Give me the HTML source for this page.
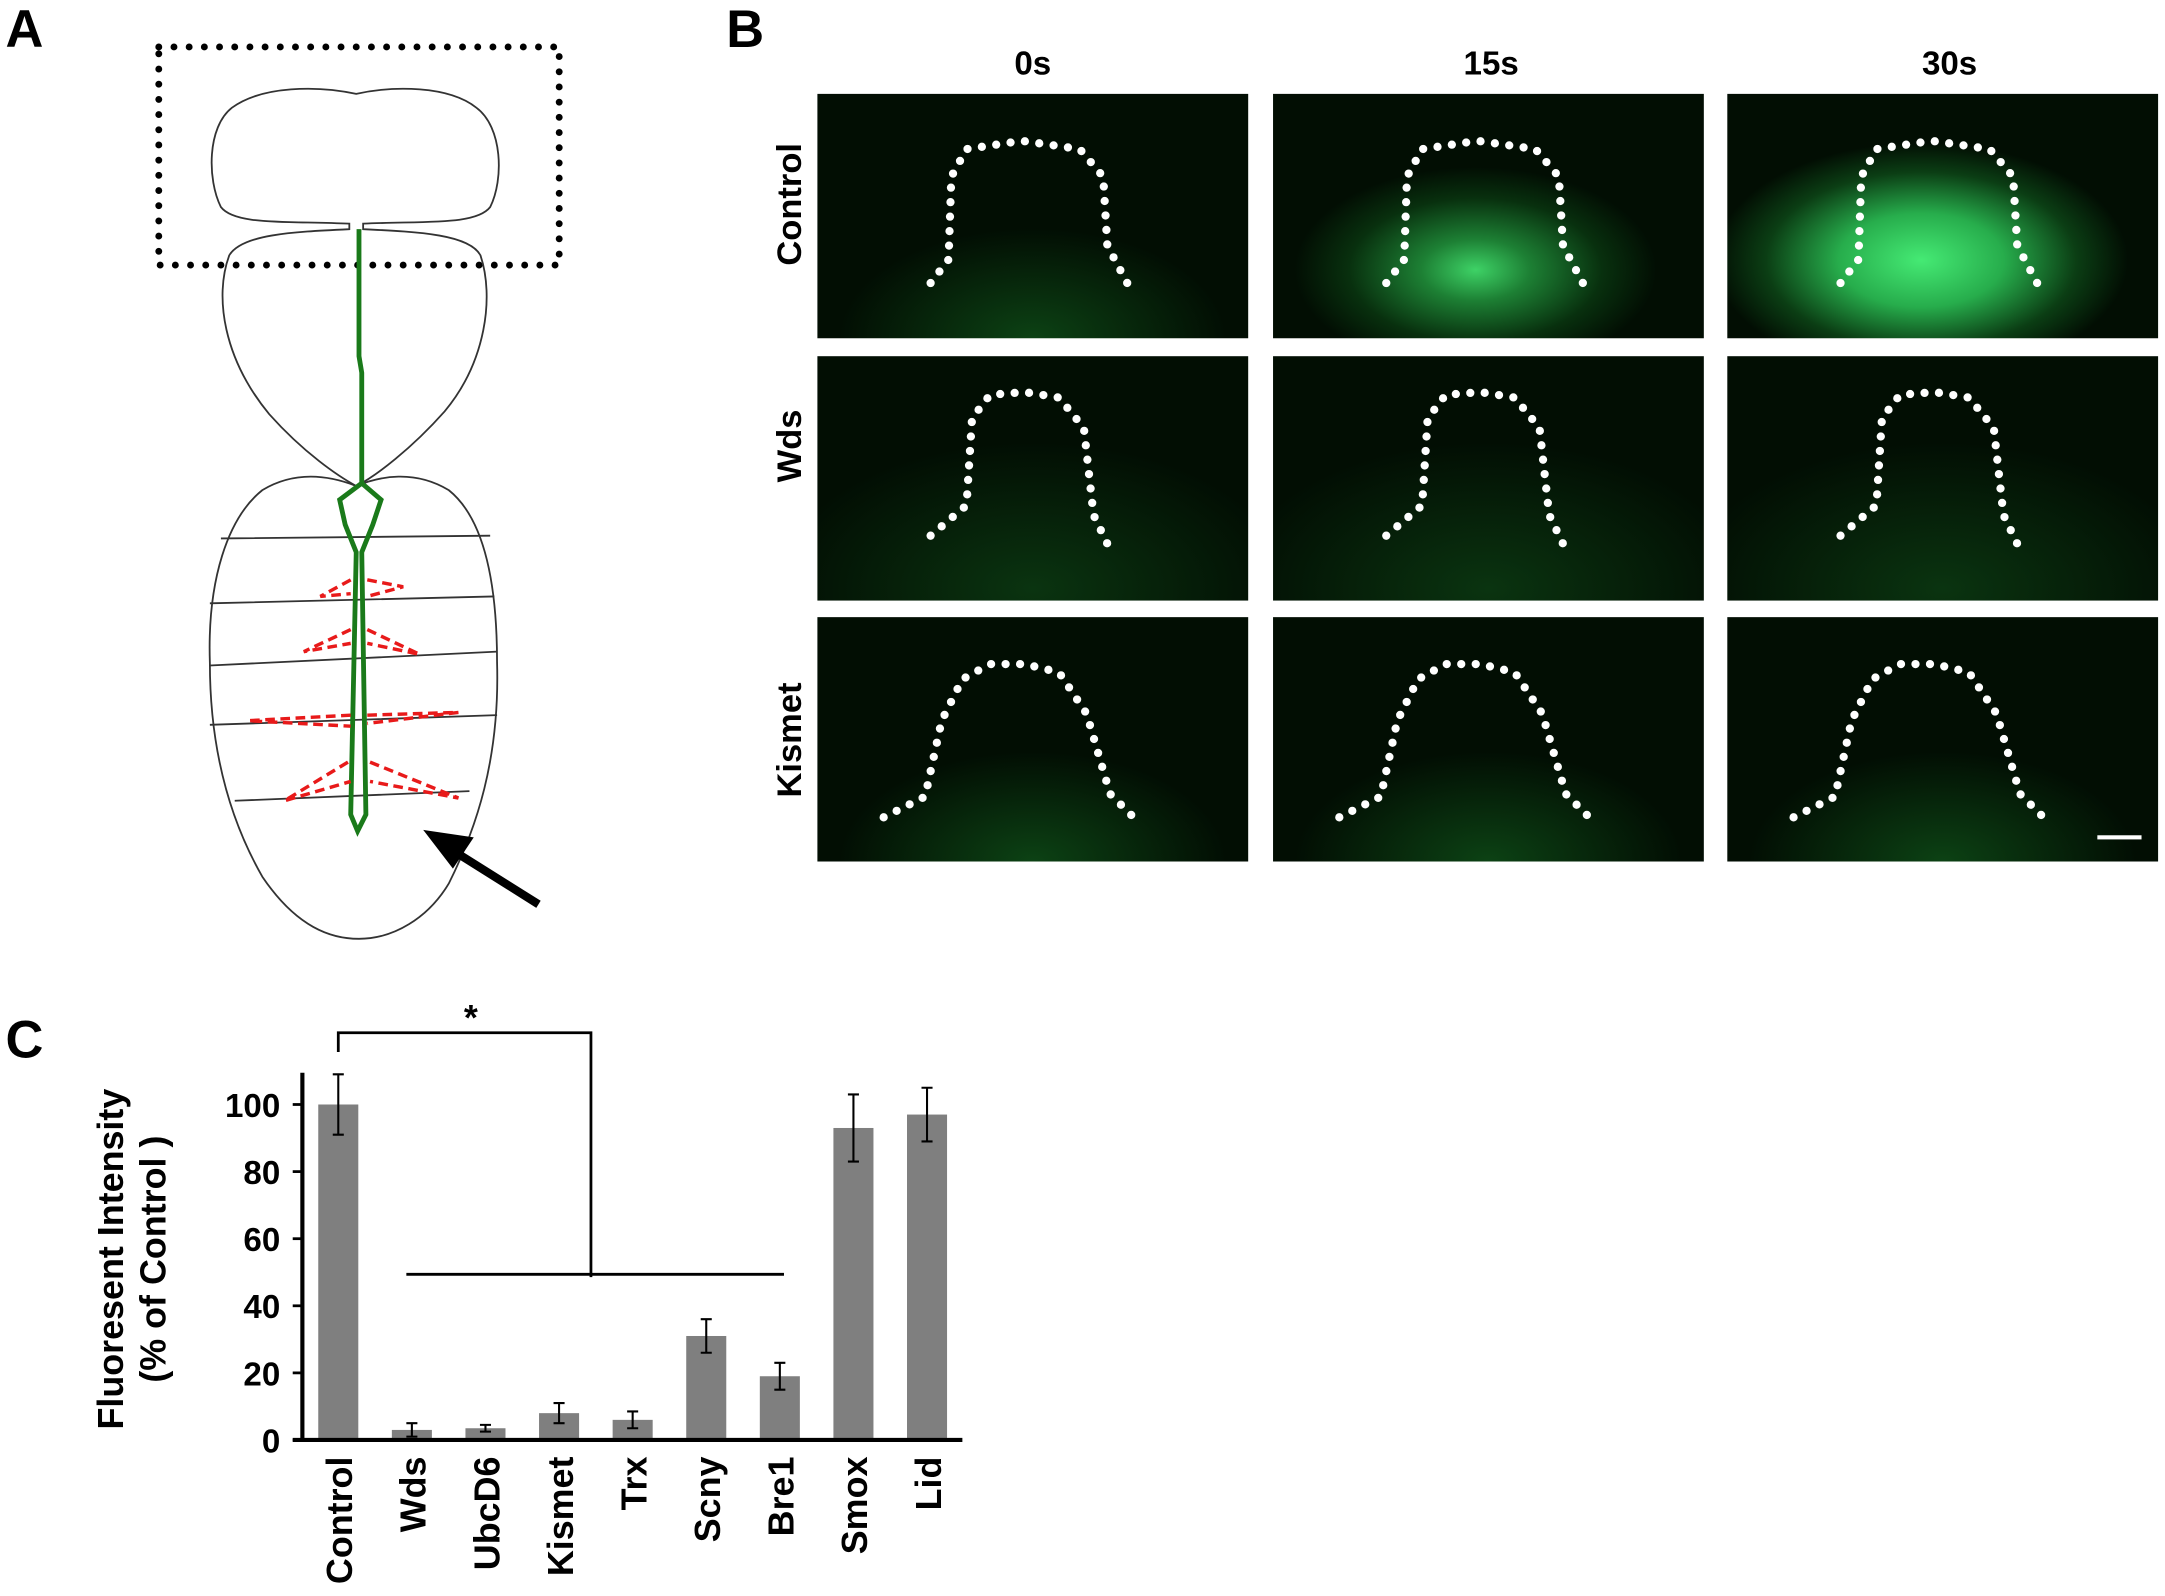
<!DOCTYPE html>
<html><head><meta charset="utf-8"><style>
html,body{margin:0;padding:0;background:#fff;}
svg{display:block;}
text{font-family:"Liberation Sans",sans-serif;font-weight:bold;}
</style></head><body>
<svg id="fig" width="2165" height="1596" viewBox="0 0 1568 1156" preserveAspectRatio="none" xmlns="http://www.w3.org/2000/svg">
<defs>
<radialGradient id="gC0" cx="0.5" cy="1.0" r="0.45"><stop offset="0" stop-color="#0c4214"/><stop offset="1" stop-color="#020e03"/></radialGradient>
<radialGradient id="gC15" cx="0.47" cy="0.72" r="0.42"><stop offset="0" stop-color="#3ed266"/><stop offset="0.3" stop-color="#1d8034"/><stop offset="0.7" stop-color="#08300e"/><stop offset="1" stop-color="#020e03"/></radialGradient>
<radialGradient id="gC30" cx="0.45" cy="0.68" r="0.48"><stop offset="0" stop-color="#45ea74"/><stop offset="0.4" stop-color="#27ad4c"/><stop offset="0.75" stop-color="#0b3e14"/><stop offset="1" stop-color="#020e03"/></radialGradient>
<radialGradient id="gD" cx="0.5" cy="0.95" r="0.6"><stop offset="0" stop-color="#0a3410"/><stop offset="1" stop-color="#020e03"/></radialGradient>
</defs>

<text x="4" y="34" font-size="38">A</text>
<text x="526" y="34" font-size="38">B</text>
<text x="4" y="766" font-size="38">C</text>

<g fill="none" stroke="#333" stroke-width="1.3">
  <rect x="115" y="34" width="290" height="158" stroke="#000" stroke-width="5" stroke-dasharray="0 11" stroke-linecap="round"/>
  <path d="M258,68 C230,62 190,62 168,78 C150,92 150,130 160,150 C170,163 205,160 253,162 L253,166 C210,168 175,170 166,185 C155,215 162,260 195,300 C220,328 245,345 258,352 C272,345 298,325 322,298 C352,262 358,215 348,185 C340,170 305,168 263,166 L263,162 C310,160 345,163 355,150 C365,130 364,92 345,78 C325,62 285,62 258,68 Z"/>
  <path d="M258,352 C240,345 215,340 190,355 C165,375 150,420 152,480 C152,550 170,600 190,635 C215,672 240,680 260,680 C285,680 310,665 325,640 C345,600 362,550 360,480 C360,420 350,375 325,355 C300,340 275,345 258,352 Z"/>
  <path d="M160,390 L355,388 M152,437 L358,432 M152,482 L360,472 M152,525 L360,518 M170,580 L340,573"/>
  <path d="M260,166 L260,258 L262,270 L262,350 M262,350 L246,362 L250,380 L258,400 L254,590 L259,602 L265,590 L262,400 L270,380 L276,362 Z" stroke="#1a7a1a" stroke-width="3.5"/>
  <g stroke="#e81a1a" stroke-width="2.5" stroke-dasharray="7 4">
    <path d="M254,420 L232,432 L254,430 M266,420 L292,425 L266,432"/>
    <path d="M254,456 L220,472 L254,466 M266,456 L304,474 L266,466"/>
    <path d="M254,518 L180,522 L254,526 M266,518 L332,516 L266,524"/>
    <path d="M252,552 L206,580 L254,566 M268,552 L332,578 L268,566"/>
  </g>
  <path d="M390,655 L328,616" stroke="#000" stroke-width="6"/>
  <polygon points="308,602 342,607 328,628" fill="#000" stroke="#000"/>
</g>

<g>
  <text x="748" y="54" font-size="24" text-anchor="middle">0s</text>
  <text x="1080" y="54" font-size="24" text-anchor="middle">15s</text>
  <text x="1412" y="54" font-size="24" text-anchor="middle">30s</text>
  <text transform="translate(580,148) rotate(-90)" font-size="25" text-anchor="middle">Control</text>
  <text transform="translate(580,323) rotate(-90)" font-size="25" text-anchor="middle">Wds</text>
  <text transform="translate(580,536) rotate(-90)" font-size="25" text-anchor="middle">Kismet</text>
  <g id="imgs"></g>
  <rect x="1519" y="605" width="32" height="3" fill="#fff"/>
</g>

<g id="chart"></g>
</svg>
<script>
const categories = ["Control","Wds","UbcD6","Kismet","Trx","Scny","Bre1","Smox","Lid"];
const values = [100,3,3.5,8,6,31,19,93,97];
const errors = [9,2,1,3,2.5,5,4,10,8];
const yTicks = [0,20,40,60,80,100];

const NS="http://www.w3.org/2000/svg";
function mk(tag,attrs,parent){const e=document.createElementNS(NS,tag);for(const k in attrs)e.setAttribute(k,attrs[k]);parent.appendChild(e);return e;}

// panel B images
const imgs=document.getElementById('imgs');
const colsX=[592,922,1251], rowsY=[68,258,447], W=312,H=177;
const fills=[["gC0","gC15","gC30"],["gD","gD","gD"],["gC0","gC0","gC0"]];
const shapes=[
 [[82,137],[95,120],[97,60],[108,40],[148,34],[190,40],[207,60],[210,110],[226,140]],
 [[82,130],[108,108],[112,45],[125,28],[150,26],[175,30],[193,52],[200,115],[212,140]],
 [[48,145],[78,130],[90,75],[105,45],[125,34],[150,34],[175,40],[195,70],[212,128],[232,148]]];
const names=["control","wds","kismet"], times=["0s","15s","30s"];
for(let r=0;r<3;r++)for(let c=0;c<3;c++){
  const g=mk('g',{transform:`translate(${colsX[c]},${rowsY[r]})`},imgs);
  
  
  mk('rect',{x:0,y:0,width:W,height:H,fill:'url(#'+fills[r][c]+')'},g);
  const pts=shapes[r];
  let d='M'+pts[0].join(',');
  for(let i=1;i<pts.length;i++)d+=' L'+pts[i].join(',');
  const p=mk('path',{d:d,fill:'none',stroke:'#fff','stroke-width':6,'stroke-linecap':'round','stroke-linejoin':'round','stroke-dasharray':'0 10.5'},g);
  
  
}

// chart C
const chart=document.getElementById('chart');
const x0=245, step=53.3, barW=29;
const yZero=1043, yPer=2.43;
function yS(v){return yZero-v*yPer;}
function xS(i){return x0+i*step;}
const axY=mk('line',{x1:219,y1:777,x2:219,y2:yZero,stroke:'#000','stroke-width':3},chart);


yTicks.forEach(t=>{
  mk('line',{x1:212,y1:yS(t),x2:219,y2:yS(t),stroke:'#000','stroke-width':2},chart);
  const tx=mk('text',{x:203,y:yS(t)+9,'font-size':24,'text-anchor':'end'},chart);
  tx.textContent=t;
  
  
});
categories.forEach((c,i)=>{
  const v=values[i], e=errors[i], cx=xS(i);
  const b=mk('rect',{x:cx-barW/2,y:yS(v),width:barW,height:yZero-yS(v),fill:'#7f7f7f'},chart);
  
  
  const eb=mk('path',{d:`M${cx},${yS(v+e)} L${cx},${yS(Math.max(0,v-e))} M${cx-4},${yS(v+e)} L${cx+4},${yS(v+e)} M${cx-4},${yS(Math.max(0,v-e))} L${cx+4},${yS(Math.max(0,v-e))}`,stroke:'#000','stroke-width':1.5,fill:'none'},chart);
  
  
  const lb=mk('text',{transform:`translate(${cx+10},1055) rotate(-90)`,'font-size':26,'text-anchor':'end'},chart);
  lb.textContent=c;
  
  
});
const axX=mk('line',{x1:212,y1:yZero,x2:697,y2:yZero,stroke:'#000','stroke-width':3},chart);


const t1=mk('text',{transform:'translate(89,912) rotate(-90)','font-size':26,'text-anchor':'middle'},chart);
t1.textContent='Fluoresent Intensity';


const t2=mk('text',{transform:'translate(120,912) rotate(-90)','font-size':26,'text-anchor':'middle'},chart);
t2.textContent='(% of Control )';


const br=mk('path',{d:`M${xS(0)},762 L${xS(0)},748 L428,748 L428,925 M${xS(1)-4},923 L${xS(6)+3},923`,stroke:'#000','stroke-width':2,fill:'none'},chart);


const st=mk('text',{x:341,y:746,'font-size':26,'text-anchor':'middle'},chart);
st.textContent='*';


</script>
</body></html>
